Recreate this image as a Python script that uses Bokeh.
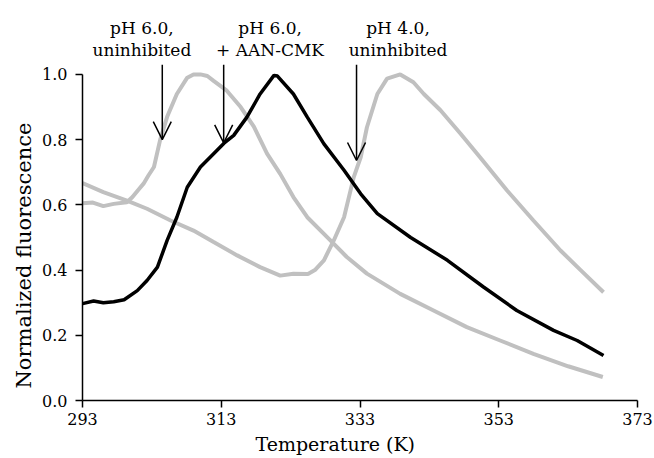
from bokeh.plotting import figure
from bokeh.models import Range1d, FixedTicker, Label, Arrow, OpenHead, Title
from bokeh.embed import file_html
from bokeh.resources import INLINE

# pH 6.0, uninhibited (gray)
temp_a = [293, 294.5, 296, 297.5, 299.4, 300.2, 301, 301.8, 302.5, 303.3, 304.2, 305.2, 306.6, 308.1, 309, 310, 311,
          311.9, 313.8, 315.8, 317.7, 319.6, 321.5, 323.4, 325.4, 328.3, 331.1, 334, 338.8, 343.6, 348.4, 353.2, 358, 363, 368]
fluor_a = [0.605, 0.607, 0.596, 0.603, 0.608, 0.624, 0.645, 0.665, 0.69, 0.716, 0.80, 0.87, 0.94, 0.99, 1.0, 1.0, 0.995,
           0.98, 0.95, 0.90, 0.84, 0.757, 0.695, 0.624, 0.562, 0.50, 0.44, 0.389, 0.327, 0.276, 0.225, 0.184, 0.143, 0.105, 0.072]

# pH 4.0, uninhibited (gray)
temp_b = [293, 296, 299.4, 302.3, 305.7, 309, 311.9, 315.3, 318.6, 321.5, 323.4, 325.5, 326.5, 327.8, 329.2, 330.7, 332.1,
          333.1, 334, 335.5, 336.9, 338.8, 340.7, 342.2, 344.6, 347.5, 350.3, 354.2, 358, 361.9, 364.8, 368.1]
fluor_b = [0.667, 0.639, 0.613, 0.588, 0.552, 0.521, 0.486, 0.445, 0.409, 0.383, 0.389, 0.388, 0.40, 0.43, 0.49, 0.562, 0.685,
           0.746, 0.838, 0.94, 0.987, 1.0, 0.976, 0.94, 0.89, 0.818, 0.746, 0.644, 0.552, 0.46, 0.40, 0.332]

# pH 6.0, + AAN-CMK (black)
temp_c = [293, 294.6, 296, 297.5, 299, 300.9, 302.3, 303.8, 305.2, 306.6, 308.1, 310, 311.9, 313.4, 314.8, 316.7, 318.6,
          320.6, 321.1, 323.4, 325.4, 327.8, 330.7, 333.1, 335.5, 340.3, 345.6, 350.8, 355.6, 360.9, 364.3, 368.1]
fluor_c = [0.297, 0.305, 0.30, 0.303, 0.309, 0.337, 0.368, 0.409, 0.491, 0.562, 0.654, 0.716, 0.757, 0.789, 0.813, 0.869, 0.94,
           0.997, 0.995, 0.94, 0.869, 0.787, 0.706, 0.634, 0.573, 0.50, 0.43, 0.348, 0.276, 0.215, 0.184, 0.138]

x_ticks = [293, 313, 333, 353, 373]
y_ticks = [0.0, 0.2, 0.4, 0.6, 0.8, 1.0]

label_line1 = ["pH 6.0,", "pH 6.0,", "pH 4.0,"]
label_line2 = ["uninhibited", "+ AAN-CMK", "uninhibited"]
label_x = [301.56, 320.04, 338.48]
arrow_x = [304.5, 313.35, 332.5]
arrow_tip = [0.80, 0.79, 0.736]

FONT = "DejaVu Serif"

p = figure(width=654, height=458, output_backend="svg", toolbar_location=None,
           x_range=Range1d(293, 373), y_range=Range1d(0, 1.196),
           min_border_left=82, min_border_right=17, min_border_top=10, min_border_bottom=58)
p.outline_line_color = None
p.xgrid.visible = False
p.ygrid.visible = False

p.line(temp_a, fluor_a, line_color="#c0c0c0", line_width=4)
p.line(temp_b, fluor_b, line_color="#c0c0c0", line_width=4)
p.line(temp_c, fluor_c, line_color="black", line_width=3.5)

for ax in (p.xaxis[0], p.yaxis[0]):
    ax.axis_line_color = "black"
    ax.axis_line_width = 1.5
    ax.major_tick_line_color = "black"
    ax.major_tick_line_width = 1.5
    ax.major_tick_in = 0
    ax.major_tick_out = 7
    ax.minor_tick_line_color = None
    ax.major_label_text_font = FONT
    ax.major_label_text_font_size = "16px"
    ax.major_label_text_color = "black"

p.xaxis.ticker = FixedTicker(ticks=x_ticks)
p.yaxis.ticker = FixedTicker(ticks=y_ticks)
p.yaxis.bounds = (0, 1)
p.xaxis.major_label_overrides = {t: str(t) for t in x_ticks}
p.yaxis.major_label_overrides = {t: f"{t:.1f}" for t in y_ticks}
p.xaxis.major_label_standoff = 5
p.yaxis.major_label_standoff = 8

p.add_layout(Title(text="Temperature (K)", align="left", offset=173, standoff=7,
                   text_font=FONT, text_font_size="19px", text_font_style="normal", text_color="black"), "below")
p.add_layout(Title(text="Normalized fluorescence", align="left", offset=12, standoff=8,
                   text_font=FONT, text_font_size="21px", text_font_style="normal", text_color="black"), "left")

for i in range(3):
    p.add_layout(Arrow(end=OpenHead(size=18, line_color="black", line_width=1.5),
                       x_start=arrow_x[i], y_start=1.03, x_end=arrow_x[i], y_end=arrow_tip[i],
                       line_color="black", line_width=1.5))
    p.add_layout(Label(x=label_x[i], y=1.141, text=label_line1[i], text_align="center", text_baseline="alphabetic",
                       text_font=FONT, text_font_size="17px", text_color="black"))
    p.add_layout(Label(x=label_x[i], y=1.074, text=label_line2[i], text_align="center", text_baseline="alphabetic",
                       text_font=FONT, text_font_size="17px", text_color="black"))

open("out.html", "w").write(file_html(p, INLINE))
